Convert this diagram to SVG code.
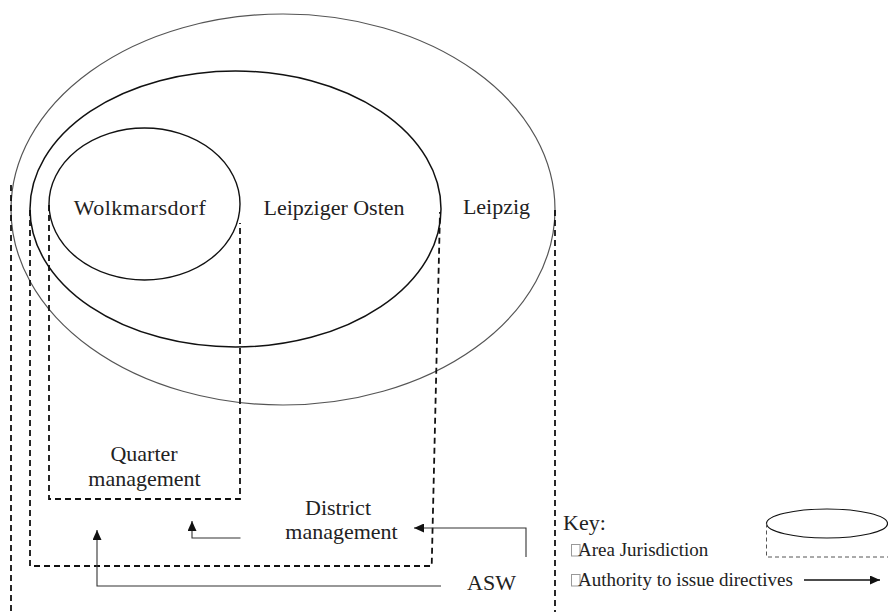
<svg xmlns="http://www.w3.org/2000/svg" width="888" height="612" viewBox="0 0 888 612">
  <style>
    text { font-family: "Liberation Serif", "Times New Roman", serif; fill: #222; }
    .label { font-size: 22px; }
    .key { font-size: 19px; }
    .area { fill: none; stroke: #111; }
    .juris { fill: none; stroke: #111; stroke-width: 1.8; stroke-dasharray: 6 4; }
    .directive { fill: none; stroke: #333; stroke-width: 1.1; }
    .tofu { fill: none; stroke: #999; stroke-width: 1; }
  </style>
  <defs>
    <marker id="arrowhead" markerUnits="userSpaceOnUse" markerWidth="11" markerHeight="9" refX="10" refY="4.5" orient="auto">
      <path d="M0,0 L10,4.5 L0,9 Z" fill="#111"/>
    </marker>
  </defs>
  <rect width="888" height="612" fill="#fff"/>

  <!-- Areas: the three nested territories -->
  <g id="leipzig">
    <ellipse class="area" cx="283" cy="209.5" rx="272" ry="195.5" style="stroke:#555;stroke-width:1.2"/>
    <text class="label" x="496.5" y="214" text-anchor="middle">Leipzig</text>
  </g>
  <g id="leipziger-osten">
    <ellipse class="area" cx="235.5" cy="209" rx="205.5" ry="138" stroke-width="1.5"/>
    <text class="label" x="334" y="215" text-anchor="middle">Leipziger Osten</text>
  </g>
  <g id="wolkmarsdorf">
    <ellipse class="area" cx="144.5" cy="204" rx="95.5" ry="76" stroke-width="1.4"/>
    <text class="label" x="140" y="215" text-anchor="middle" letter-spacing="0.5">Wolkmarsdorf</text>
  </g>

  <!-- Jurisdictions (dashed) -->
  <g id="quarter-management">
    <path class="juris" d="M49,205 V499 H240 V223"/>
    <text class="label" x="144" y="461" text-anchor="middle">Quarter</text>
    <text class="label" x="144.5" y="486" text-anchor="middle">management</text>
  </g>
  <g id="district-management">
    <path class="juris" d="M30,210 V566 H431.7 L440,212"/>
    <text class="label" x="338" y="515" text-anchor="middle">District</text>
    <text class="label" x="341.5" y="539" text-anchor="middle">management</text>
  </g>
  <g id="asw">
    <path class="juris" d="M11,185 V612"/>
    <path class="juris" d="M555,210 V612"/>
    <text class="label" x="491.5" y="590" text-anchor="middle">ASW</text>
  </g>

  <!-- Directives -->
  <g id="connectors">
    <path class="directive" d="M526,557 V528 H414" marker-end="url(#arrowhead)"/>
    <path class="directive" d="M240.5,538 H192 V521" marker-end="url(#arrowhead)"/>
    <path class="directive" d="M441,586 H97 V530" marker-end="url(#arrowhead)"/>
  </g>

  <!-- Key -->
  <g id="key">
    <text class="label" x="563" y="530" font-size="21">Key:</text>
    <rect class="tofu" x="571.5" y="544.5" width="8.5" height="11.5"/>
    <text class="key" x="578" y="556">Area Jurisdiction</text>
    <rect class="tofu" x="571.5" y="574.5" width="8.5" height="11.5"/>
    <text class="key" x="578" y="586">Authority to issue directives</text>
    <ellipse cx="827" cy="523.5" rx="60.5" ry="14.5" fill="none" stroke="#111" stroke-width="1.2"/>
    <path d="M766.5,523.5 V557 H888" fill="none" stroke="#555" stroke-width="1" stroke-dasharray="4 3"/>
    <path d="M804,580 H880" fill="none" stroke="#111" stroke-width="1.3" marker-end="url(#arrowhead)"/>
  </g>
</svg>
